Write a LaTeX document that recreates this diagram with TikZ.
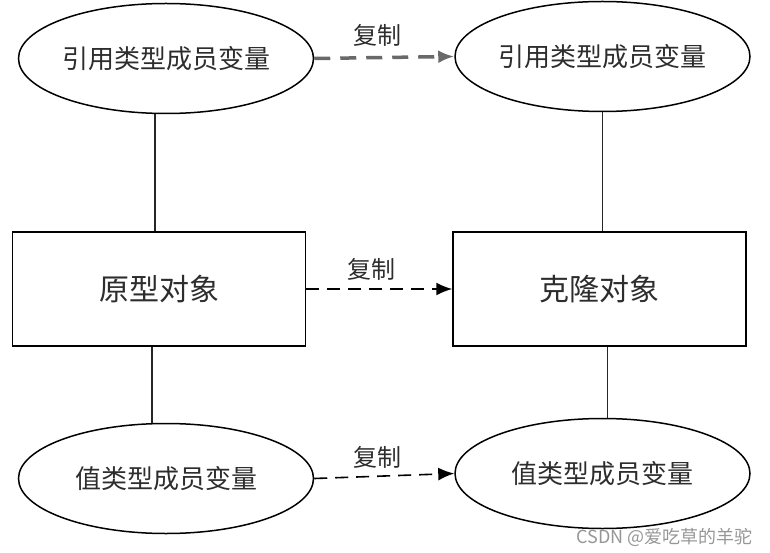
\documentclass[tikz,border=0pt]{standalone}
\usepackage{fontspec}
\usepackage{tikz}
\usetikzlibrary{arrows.meta,positioning,calc,shapes.geometric}
\newfontfamily\cjk{Noto Sans CJK SC}
\definecolor{ink}{RGB}{45,45,45}
\definecolor{dashgray}{RGB}{105,105,105}
\definecolor{markgray}{RGB}{150,150,150}
\tikzset{var/.style={ellipse,draw=black,line width=1.5pt,minimum width=295pt,minimum height=110pt,inner sep=0pt,font=\cjk\fontsize{26}{28}\selectfont,text=ink},obj/.style={draw=black,line width=1.5pt,minimum width=293pt,minimum height=114pt,inner sep=0pt,font=\cjk\fontsize{30}{32}\selectfont,text=ink},tie/.style={line width=1.5pt,draw=black!85},dup/.style={-{Latex[length=16pt,width=13pt]},line width=1.6pt,dash pattern=on 13pt off 8pt,draw=black},dupgray/.style={dup,line width=3.5pt,dash pattern=on 16pt off 10pt,draw=dashgray},lbl/.style={font=\cjk\fontsize{24}{26}\selectfont,text=ink}}

\begin{document}
\begin{tikzpicture}[x=1pt,y=-1pt]
\useasboundingbox (0,0) rectangle (770,553);
\node[obj] (proto) at (159,289) {原型对象};
\node[obj,right=146pt of proto] (clone) {克隆对象};
\node[var,above=117pt of proto,xshift=7pt] (refA) {引用类型成员变量};
\node[var,above=119pt of clone,xshift=3pt] (refB) {引用类型成员变量};
\node[var,below=76pt of proto,xshift=7pt] (valA) {值类型成员变量};
\node[var,below=71pt of clone,xshift=3pt] (valB) {值类型成员变量};
% connecting lines
\draw[tie] ($(refA.south)+(-11,0)$) -- ($(refA.south |- proto.north)+(-11,0)$);
\draw[tie] (refB.south) -- (refB.south |- clone.north);
\draw[tie] ($(proto.south)+(-7,0)$) -- ($(proto.south |- valA.north)+(-7,0)$);
\draw[tie] ($(clone.south)+(8,0)$) -- ($(clone.south |- valB.north)+(8,0)$);
% copy arrows
\draw[dupgray] (refA.east) -- node[lbl,above,pos=0.45,yshift=6pt] (cpA) {复制} (refB.west);
\draw[dup] (proto.east) -- node[lbl,above,pos=0.45,yshift=4pt] (cpB) {复制} (clone.west);
\draw[dup] (valA.east) -- node[lbl,above,pos=0.45,yshift=4pt] (cpC) {复制} (valB.west);
\node[font=\cjk\fontsize{18}{20}\selectfont,text=markgray,anchor=east] (mark) at (756,537) {CSDN @爱吃草的羊驼};
\end{tikzpicture}
\end{document}
